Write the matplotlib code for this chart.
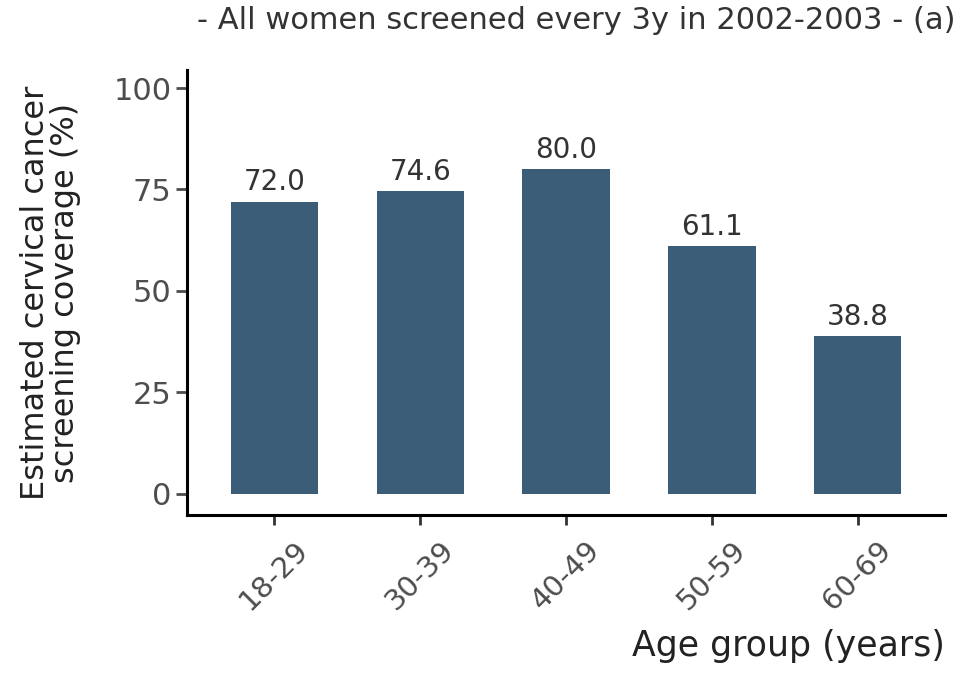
import matplotlib
matplotlib.use("Agg")
import matplotlib.pyplot as plt

age_groups = ["18-29", "30-39", "40-49", "50-59", "60-69"]
coverage = [72.0, 74.6, 80.0, 61.1, 38.8]
y_ticks = [0, 25, 50, 75, 100]

bar_color = "#3c5d78"
tick_gray = "#4d4d4d"

plt.rcParams["font.family"] = ["DejaVu Sans"]

fig = plt.figure(figsize=(9.61, 6.81), dpi=100)
ax = fig.add_axes([0.1946, 0.2438, 0.7888, 0.6532])

x = range(len(age_groups))
ax.bar(x, coverage, width=0.6, color=bar_color)
for xi, v in zip(x, coverage):
    ax.text(xi, v + 1.3, f"{v:.1f}", ha="center", va="bottom",
            fontsize=20, color="#333333")

ax.set_xlim(-0.6, len(age_groups) - 0.4)
ax.set_ylim(-5.2, 104.4)
ax.set_yticks(y_ticks)
ax.set_xticks(list(x))
ax.set_xticklabels(age_groups, rotation=45, ha="center", va="top")

for s in ["top", "right"]:
    ax.spines[s].set_visible(False)
for s in ["left", "bottom"]:
    ax.spines[s].set_linewidth(2.2)
    ax.spines[s].set_color("black")

ax.tick_params(axis="y", length=8, width=2, color=tick_gray,
               labelsize=22, labelcolor=tick_gray, pad=3)
ax.tick_params(axis="x", length=7, width=2, color="#333333",
               labelsize=21, labelcolor=tick_gray, pad=8)

ax.set_ylabel("Estimated cervical cancer\nscreening coverage (%)",
              fontsize=23, color="#222222", linespacing=0.95, labelpad=6)
ax.yaxis.set_label_coords(-0.14, 0.5)
ax.set_xlabel("Age group (years)", fontsize=25, color="#222222", loc="right",
              labelpad=10)

fig.text(0.994, 0.97, "- All women screened every 3y in 2002-2003 - (a)",
         ha="right", va="center", fontsize=22, color="#333333")

fig.savefig("out.png", dpi=100)
